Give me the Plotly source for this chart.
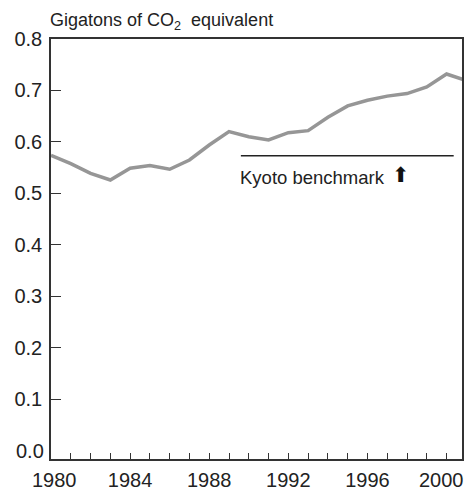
import plotly.graph_objects as go

years = list(range(1980, 2002))
emissions = [0.574, 0.558, 0.539, 0.526, 0.549, 0.554, 0.547, 0.565, 0.594, 0.620,
             0.610, 0.604, 0.618, 0.622, 0.648, 0.670, 0.681, 0.689, 0.694, 0.707,
             0.732, 0.719]

kyoto_level = 0.573
kyoto_start = 1989.6
kyoto_end = 2000.36

y_tick_vals = [0.1, 0.2, 0.3, 0.4, 0.5, 0.6, 0.7, 0.8]
y_tick_text = ["0.1", "0.2", "0.3", "0.4", "0.5", "0.6", "0.7", "0.8"]
x_tick_vals = [1980, 1984, 1988, 1992, 1996, 2000]
x_tick_text = ["1980", "1984", "1988", "1992", "1996", "2000"]

FONT = "Liberation Sans, Arial, Helvetica, sans-serif"
AX = "#333333"
TXT = "#222222"
TICKSIZE = 20

fig = go.Figure()
fig.add_trace(go.Scatter(
    x=years, y=emissions, mode="lines",
    line=dict(color="#969696", width=3.5),
    showlegend=False, hoverinfo="skip"))
fig.add_trace(go.Scatter(
    x=[kyoto_start, kyoto_end], y=[kyoto_level, kyoto_level], mode="lines",
    line=dict(color="#222222", width=1.5),
    showlegend=False, hoverinfo="skip"))

# inner x labels as axis tick labels; the two end labels as slightly shifted annotations
inner_vals = x_tick_vals[1:-1]
inner_text = x_tick_text[1:-1]

annotations = [
    dict(text="Gigatons of CO<sub>2</sub>  equivalent", xref="paper", yref="paper",
         x=0, y=1, xanchor="left", yanchor="bottom", yshift=4, xshift=-3, showarrow=False,
         font=dict(size=18, family=FONT, color=TXT)),
    dict(text="0.0", xref="paper", yref="y", x=0, y=0, xanchor="right",
         yanchor="middle", xshift=-5, showarrow=False,
         font=dict(size=TICKSIZE, family=FONT, color=TXT)),
    dict(text="Kyoto benchmark", xref="x", yref="y", x=1989.45, y=0.530,
         xanchor="left", yanchor="middle", showarrow=False,
         font=dict(size=18.5, family=FONT, color=TXT)),
    dict(text="⬆", xref="x", yref="y", x=1980 + (400.8 - 51) / 19.79, y=0.535,
         xanchor="center", yanchor="middle", showarrow=False,
         font=dict(size=21, family="DejaVu Sans", color="#111111")),
]
for val, txt, shift in [(x_tick_vals[0], x_tick_text[0], 3), (x_tick_vals[-1], x_tick_text[-1], -5)]:
    annotations.append(dict(text=txt, xref="x", yref="paper", x=val, y=0,
                            xanchor="center", yanchor="top", xshift=shift, yshift=-9,
                            showarrow=False, borderpad=0,
                            font=dict(size=TICKSIZE, family=FONT, color=TXT)))

fig.update_layout(
    width=468, height=490,
    margin=dict(l=51, r=6, t=39, b=31, autoexpand=False),
    paper_bgcolor="white", plot_bgcolor="white",
    font=dict(family=FONT, color=TXT),
    xaxis=dict(
        range=[1980, 2000.78], tickvals=inner_vals, ticktext=inner_text,
        ticks="inside", ticklen=6, tickwidth=1.2, tickcolor=AX,
        minor=dict(dtick=1, tick0=1980, ticks="inside", ticklen=6, tickwidth=1.2, tickcolor=AX),
        showline=True, linecolor=AX, linewidth=1.5, mirror=True,
        showgrid=False, zeroline=False, automargin=False,
        tickfont=dict(size=TICKSIZE, family=FONT, color=TXT),
        ticklabelstandoff=2),
    yaxis=dict(
        range=[-0.016, 0.8], tickvals=y_tick_vals, ticktext=y_tick_text,
        ticks="inside", ticklen=10, tickwidth=1.2, tickcolor=AX,
        showline=True, linecolor=AX, linewidth=1.5, mirror=True,
        showgrid=False, zeroline=False, automargin=False,
        tickfont=dict(size=TICKSIZE, family=FONT, color=TXT),
        ticklabelstandoff=3),
    annotations=annotations,
)

fig.write_html("out.html", config={"displayModeBar": False},
               post_script="document.body.style.margin='0px';")
